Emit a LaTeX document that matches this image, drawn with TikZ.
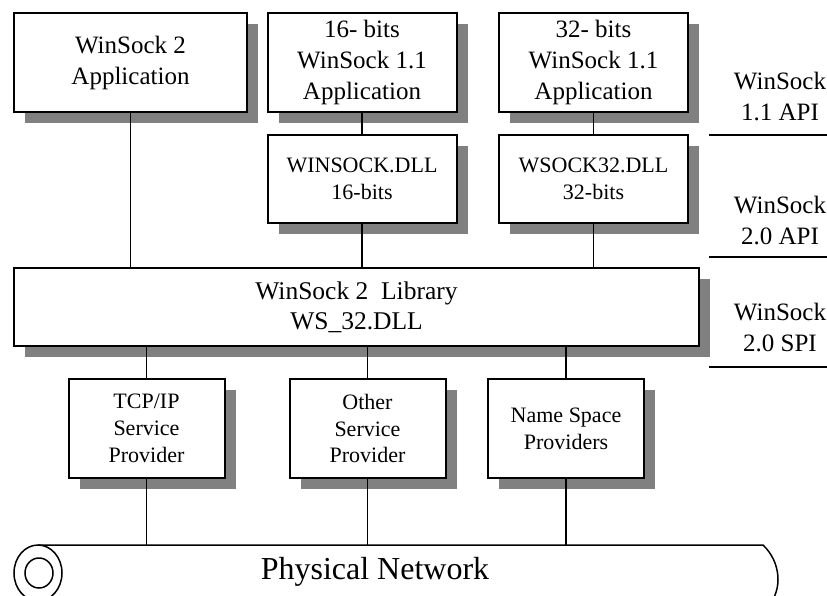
\documentclass[tikz,border=0pt]{standalone}
\usepackage{fontspec}
\setmainfont{Liberation Serif}
\usetikzlibrary{positioning,shadows}

\begin{document}
\begin{tikzpicture}[x=0.5pt,y=-0.5pt,box/.style={draw,line width=1pt,fill=white,align=center,inner sep=2pt,drop shadow={shadow xshift=5.5pt,shadow yshift=-5.5pt,fill=black!50,opacity=1}},app/.style={box,minimum width=94.5pt,minimum height=49.5pt,font=\fontsize{12.5}{15.5}\selectfont},dll/.style={box,minimum width=94.5pt,minimum height=44pt,font=\fontsize{11}{13.5}\selectfont},prov/.style={box,minimum width=78pt,minimum height=49.5pt,font=\fontsize{11}{13.4}\selectfont},layer/.style={align=center,font=\fontsize{12.5}{15.5}\selectfont},wire/.style={line width=0.75pt},rule/.style={line width=1pt}]
\useasboundingbox (0,0) rectangle (827,596);
\node[app, minimum width=116.5pt] (app2) at (130.5,62.5){WinSock 2\\Application};
\node[app] (app16) at (362,62.5){16- bits\\WinSock 1.1\\Application};
\node[app] (app32) at (593.5,62.5){32- bits\\WinSock 1.1\\Application};
\node[dll] (dll16) at (362,179){WINSOCK.DLL\\16-bits};
\node[dll] (dll32) at (593.5,179){WSOCK32.DLL\\32-bits};
\node[box, minimum width=342.5pt, minimum height=39pt, font=\fontsize{12.75}{15}\selectfont] (lib) at (356.5,307){WinSock 2\ \ Library\\WS\_32.DLL};
\node[prov] (tcp) at (146.5,428.5){TCP/IP\\Service\\Provider};
\node[prov] (other) at (367.5,428.5){Other\\Service\\Provider};
\node[prov] (nsp) at (566,428.5){Name Space\\Providers};
\draw[wire] (app2.south) -- (app2.south |- lib.north);\draw[wire] (app16.south) -- (dll16.north);\draw[wire] (app32.south) -- (dll32.north);
\draw[wire] (dll16.south) -- (dll16.south |- lib.north);\draw[wire] (dll32.south) -- (dll32.south |- lib.north);
\draw[wire] (tcp.north |- lib.south) -- (tcp.north);\draw[wire] (other.north |- lib.south) -- (other.north);\draw[wire] (nsp.north |- lib.south) -- (nsp.north);
% physical network
\coordinate (netL) at (38,545);\coordinate (netR) at (763,545);
\draw[wire] (netL) -- (netR) .. controls (781,562) and (783,590) .. (768,606);
\draw[wire] (38,573) ellipse [x radius=12pt, y radius=14pt];\draw[wire] (39,573) ellipse [x radius=7pt, y radius=7.5pt];
\draw[wire] (tcp.south) -- (tcp.south |- netL);\draw[wire] (other.south) -- (other.south |- netL);\draw[wire] (nsp.south) -- (nsp.south |- netL);
\node[font=\fontsize{16}{19}\selectfont] (net) at (375,572){Physical Network};
% layers
\node[layer] (api11) at (780,96){WinSock\\1.1 API};\node[layer] (api20) at (780,220){WinSock\\2.0 API};\node[layer] (spi20) at (780,327){WinSock\\2.0 SPI};
\draw[rule] (709,135) -- (827,135);\draw[rule] (709,257) -- (827,257);\draw[rule] (709,367) -- (827,367);
\end{tikzpicture}
\end{document}
